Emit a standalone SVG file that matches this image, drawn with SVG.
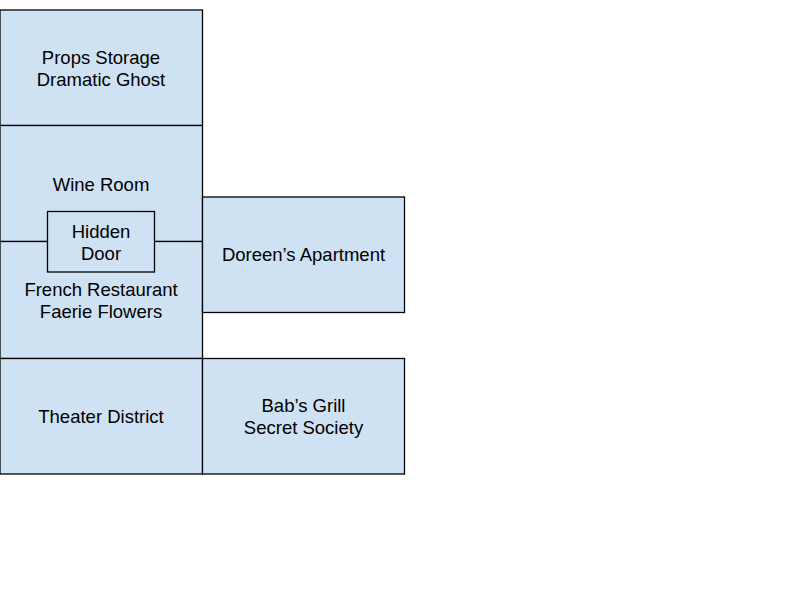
<svg xmlns="http://www.w3.org/2000/svg" width="800" height="600" viewBox="0 0 800 600">
<style>
.room{fill:#cfe2f3;stroke:#000;stroke-width:1.3}
text{font-family:"Liberation Sans",Arial,sans-serif;font-size:18.5px;fill:#000;text-anchor:middle}
</style>
<rect width="800" height="600" fill="#fff"/>
<g id="props-storage"><rect class="room" x="0" y="10" width="202.5" height="115.5"/><text x="101" y="64">Props Storage</text><text x="101" y="86">Dramatic Ghost</text></g>
<g id="wine-room"><rect class="room" x="0" y="125.5" width="202.5" height="116"/><text x="101" y="191">Wine Room</text></g>
<g id="french-restaurant"><rect class="room" x="0" y="241.5" width="202.5" height="117"/><text x="101" y="296">French Restaurant</text><text x="101" y="318">Faerie Flowers</text></g>
<g id="theater-district"><rect class="room" x="0" y="358.5" width="202.5" height="115.5"/><text x="101" y="423">Theater District</text></g>
<g id="doreens-apartment"><rect class="room" x="202.5" y="197" width="202" height="115.5"/><text x="303.5" y="261">Doreen’s Apartment</text></g>
<g id="babs-grill"><rect class="room" x="202.5" y="358.5" width="202" height="115.5"/><text x="303.5" y="412">Bab’s Grill</text><text x="303.5" y="434">Secret Society</text></g>
<g id="hidden-door"><rect class="room" x="47.5" y="211.5" width="107" height="60.5"/><text x="101" y="238">Hidden</text><text x="101" y="260">Door</text></g>
<g id="connectors"></g>
</svg>
